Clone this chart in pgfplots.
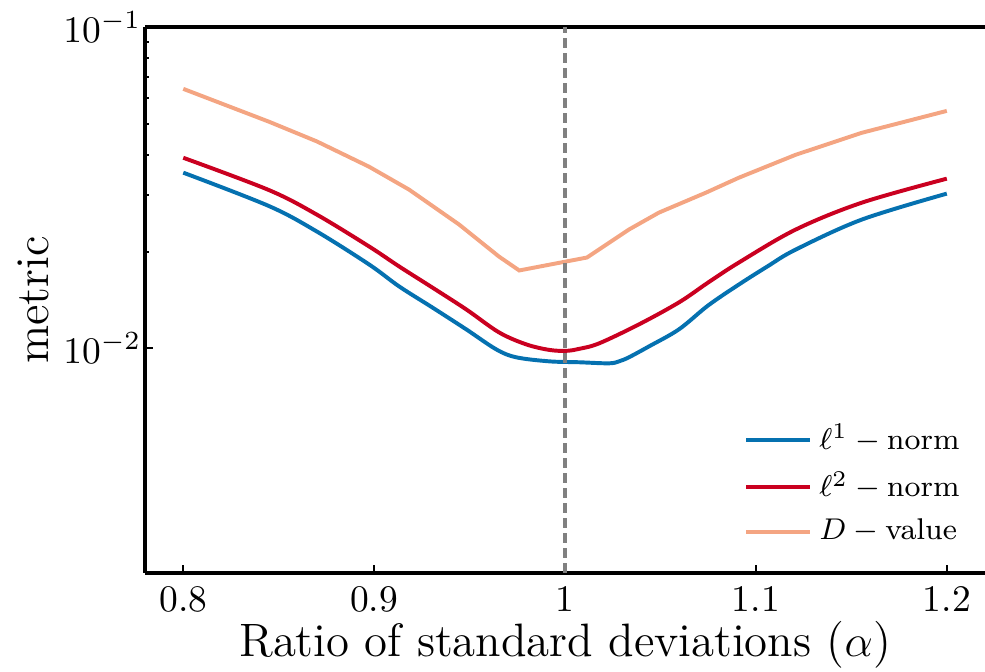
\documentclass[border=0pt]{standalone}
\usepackage{pgfplots}
\pgfplotsset{compat=1.18}

\definecolor{lonecol}{HTML}{0571B0}
\definecolor{ltwocol}{HTML}{CA0020}
\definecolor{dcol}{HTML}{F4A582}

\begin{document}
\begin{tikzpicture}
% page frame: axis box is 224pt x 145.6pt with room for labels
\useasboundingbox (-38.7pt,-26.4pt) rectangle (224pt,152.8pt);
\begin{axis}[
  at={(0,0)}, anchor=south west,
  scale only axis,
  width=224pt, height=145.6pt,
  ymode=log,
  xmin=0.78, xmax=1.22,
  ymin=2e-3, ymax=1e-1,
  xtick={0.8,0.9,1,1.1,1.2},
  xticklabels={0.8,0.9,1,1.1,1.2},
  ytick={1e-2,1e-1},
  axis x line*=box,
  axis y line*=left,
  every outer x axis line/.append style={-},
  every outer y axis line/.append style={-},
  axis line style={line width=1.2pt, -},
  xtick pos=left, ytick pos=left,
  tick align=inside,
  major tick length=2.2pt,
  minor tick length=1.1pt,
  every tick/.style={black, line width=0.5pt},
  xlabel={Ratio of standard deviations ($\alpha$)},
  ylabel={metric},
  label style={font=\fontsize{12.5}{15}\selectfont},
  xlabel style={yshift=4.5pt},
  ylabel style={yshift=-3pt},
  yticklabel style={xshift=2.5pt},
  tick label style={font=\normalsize},
  legend style={draw=none, fill=none, at={(0.993,0.022)}, anchor=south east,
    font=\footnotesize, row sep=0.4pt},
  legend cell align=left,
  legend image code/.code={\draw[#1] (0pt,0pt) -- (17pt,0pt);},
]
\addplot[lonecol, line width=1.05pt, smooth, tension=0.55] coordinates {
(0.800,0.03521) (0.845,0.02770) (0.870,0.02309) (0.8974,0.01823)
(0.9131,0.01558) (0.9304,0.01341) (0.9482,0.01146) (0.9639,0.00993)
(0.9743,0.00938) (0.9916,0.00911) (1.0073,0.00905) (1.0230,0.00898)
(1.0283,0.00911) (1.0335,0.00938) (1.0440,0.01014) (1.0597,0.01146)
(1.0750,0.01360) (1.0911,0.01580) (1.1060,0.01798) (1.1209,0.02030)
(1.1555,0.02516) (1.2000,0.03030)
};
\addlegendentry{$\ell^1-\mathrm{norm}$}
\addplot[ltwocol, line width=1.05pt, smooth, tension=0.55] coordinates {
(0.800,0.03918) (0.845,0.03106) (0.870,0.02606) (0.8974,0.02074)
(0.9131,0.01798) (0.9304,0.01547) (0.9482,0.01322) (0.9654,0.01121)
(0.9796,0.01029) (0.9916,0.00989) (1.0005,0.00982) (1.0073,0.00996)
(1.0178,0.01036) (1.0387,0.01187) (1.0597,0.01390) (1.0750,0.01603)
(1.0911,0.01850) (1.1209,0.02343) (1.1555,0.02840) (1.2000,0.03373)
};
\addlegendentry{$\ell^2-\mathrm{norm}$}
\addplot[dcol, line width=1.05pt] coordinates {
(0.800,0.0642) (0.845,0.0507) (0.870,0.04404) (0.8974,0.03673)
(0.9183,0.03118) (0.9445,0.02428) (0.9654,0.01930) (0.9760,0.01747)
(1.0005,0.01863) (1.0115,0.01917) (1.0335,0.02343) (1.0492,0.02645)
(1.0738,0.03051) (1.0911,0.03397) (1.1209,0.04004) (1.1555,0.04686)
(1.2000,0.05482)
};
\addlegendentry{$D-\mathrm{value}$}
\addplot[gray, line width=0.95pt, dash pattern=on 2.7pt off 1.3pt, forget plot]
  coordinates {(1,2e-3) (1,1e-1)};
\end{axis}
\end{tikzpicture}
\end{document}
